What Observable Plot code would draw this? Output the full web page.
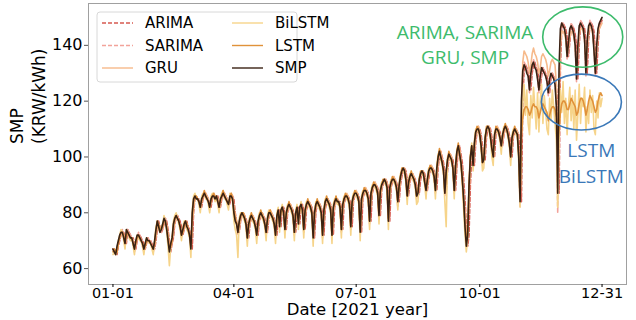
<!DOCTYPE html>
<html><head><meta charset="utf-8">
<script src="https://cdn.jsdelivr.net/npm/d3@7"></script>
<script src="https://cdn.jsdelivr.net/npm/@observablehq/plot@0.6"></script>
<style>
html,body{margin:0;padding:0;background:#fff;}
#chart{width:636px;height:320px;}
</style></head><body><div id="chart"></div>
<script>
const startDate = "2021-01-01";
const seriesNames = ["ARIMA","SARIMA","GRU","BiLSTM","LSTM","SMP"];
const seriesColors = ["#d65a50","#f2a39a","#f6b98a","#f6d48a","#e0923a","#3a2214"];
const seriesDash = ["4,2","4,2",null,null,null,null];
const xTicks = ["2021-01-01","2021-04-01","2021-07-01","2021-10-01","2021-12-31"];
const xTickLabels = ["01-01","04-01","07-01","10-01","12-31"];
const yTicks = [60,80,100,120,140];
const xLabel = "Date [2021 year]";
const yLabel = "SMP\n(KRW/kWh)";

const smp = [
67,66,65,
68,70,72,73,73,71,69,
74,73,72,71,71,69,67,
70,72,72,71,70,69,67,
69,71,70,70,69,68,67,
70,74,77,75,73,74,76,
78,77,74,70,66,69,71,
76,78,79,78,77,75,72,
74,76,77,75,74,72,67,
80,85,86,85,85,84,82,
85,86,87,86,85,84,82,
85,86,86,85,86,84,82,
85,86,87,86,85,84,83,
86,86,85,80,77,76,73,
77,79,80,79,78,76,71,
76,78,79,78,77,75,72,
77,79,80,79,78,76,73,
78,80,80,79,78,76,72,
79,81,75,81,82,80,74,
80,82,83,82,81,79,73,
80,82,76,82,83,81,74,
81,83,84,83,82,80,71,
80,83,84,83,82,80,72,
81,84,85,84,83,81,72,
82,84,85,84,84,82,74,
83,85,86,86,85,83,75,
84,86,87,87,86,84,73,
85,87,88,88,87,85,77,
87,89,90,90,89,87,79,
88,90,91,92,91,89,77,
89,91,92,92,91,89,84,
90,93,95,96,95,92,86,
91,93,94,93,92,90,86,
87,92,94,95,94,91,88,
92,95,96,96,95,93,88,
96,100,102,100,98,95,87,
95,99,101,100,99,96,88,
97,102,104,101,98,92,85,
75,68,72,90,100,104,97,
105,109,110,110,108,104,98,
99,107,110,111,110,107,103,
100,108,110,110,109,107,104,
108,110,111,110,108,105,100,
107,109,110,109,108,100,84,
120,131,133,132,130,129,124,
130,133,134,132,131,128,124,
129,132,131,130,129,127,123,
128,130,129,128,126,118,87,
132,146,148,147,146,143,136,
141,146,147,146,144,140,128,
140,147,148,147,146,142,130,
142,147,148,147,145,138,130,
140,146,148,149,150];

const arima = [
67,67,66,
65,68,70,72,73,73,71,
69,74,73,72,71,71,69,
67,70,72,72,71,70,69,
67,69,71,70,70,69,68,
67,70,74,77,75,73,74,
76,78,77,74,70,66,69,
71,76,78,79,78,77,75,
72,74,76,77,75,74,72,
67,80,85,86,85,85,84,
82,85,86,87,86,85,84,
82,85,86,86,85,86,84,
82,85,86,87,86,85,84,
83,86,86,85,80,77,76,
73,77,79,80,79,78,76,
71,76,78,79,78,77,75,
72,77,79,80,79,78,76,
73,78,80,80,79,78,76,
72,79,81,75,81,82,80,
74,80,82,83,82,81,79,
73,80,82,76,82,83,81,
74,81,83,84,83,82,80,
71,80,83,84,83,82,80,
72,81,84,85,84,83,81,
72,82,84,85,84,84,82,
74,83,85,86,86,85,83,
75,84,86,87,87,86,84,
73,85,87,88,88,87,85,
77,87,89,90,90,89,87,
79,88,90,91,92,91,89,
77,89,91,92,92,91,89,
84,90,93,95,96,95,92,
86,91,93,94,93,92,90,
86,87,92,94,95,94,91,
88,92,95,96,96,95,93,
88,96,100,102,100,98,95,
87,95,99,101,100,99,96,
88,97,102,104,101,98,92,
85,75,68,72,90,100,104,
97,105,109,110,110,108,104,
98,99,107,110,111,110,107,
103,100,108,110,110,109,107,
104,108,110,111,110,108,105,
100,107,109,110,109,108,100,
84,120,131,133,132,130,129,
124,130,133,134,132,131,128,
124,129,132,131,130,129,127,
123,128,130,129,128,126,118,
87,132,146,148,147,146,143,
136,141,146,147,146,144,140,
128,140,147,148,147,146,142,
130,142,147,148,147,145,138,
130,140,146,148,149];

const sarima = [
67,66,66,
67,69,71,73,74,72,68,
72,74,73,72,71,70,66,
68,71,73,72,70,68,66,
68,70,71,70,70,68,66,
68,72,76,76,74,73,74,
77,78,75,71,67,68,70,
74,77,79,79,77,75,71,
73,75,77,76,74,72,68,
76,83,86,86,85,84,81,
84,86,87,87,86,84,81,
84,86,87,86,85,84,81,
84,86,87,87,86,84,82,
85,87,86,82,78,76,72,
75,78,80,80,78,76,70,
74,77,79,79,77,75,71,
75,78,80,80,78,76,72,
76,79,81,80,78,76,71,
77,80,78,79,81,80,73,
78,81,83,83,81,79,72,
79,81,79,80,82,81,73,
79,82,84,84,82,80,71,
78,82,84,84,82,80,71,
79,83,85,85,83,81,71,
80,83,85,85,84,82,73,
81,84,86,87,85,83,74,
82,85,87,88,86,84,73,
82,86,88,89,87,85,76,
85,88,90,91,89,87,78,
86,89,91,92,91,89,77,
87,90,92,93,91,89,82,
88,92,95,96,95,92,85,
89,92,94,94,92,90,85,
87,91,94,95,94,91,87,
90,94,96,97,95,93,87,
93,99,102,101,98,95,86,
93,98,101,101,99,96,87,
95,101,104,102,98,93,84,
80,70,72,85,98,103,98,
101,107,110,111,108,104,97,
98,104,109,111,110,107,102,
100,106,110,111,109,107,103,
105,109,111,111,108,105,99,
104,108,110,110,108,101,82,
105,128,134,133,131,129,123,
127,132,135,133,131,128,123,
126,131,132,131,129,127,122,
125,129,130,129,127,119,80,
118,142,148,148,146,143,135,
138,145,148,147,144,140,127,
136,146,149,148,146,142,129,
138,146,149,148,145,139,129,
137,145,148,149,150];

const gru = [
67,67,66,
67,69,71,72,73,72,70,
72,73,72,71,71,70,68,
69,71,72,71,70,69,68,
68,70,70,70,69,68,67,
69,72,76,75,74,74,75,
77,77,75,72,68,68,70,
74,77,78,78,77,75,73,
73,75,77,76,74,72,69,
76,82,85,86,85,84,83,
84,86,87,87,86,85,83,
84,86,87,86,86,85,83,
84,86,87,87,86,85,84,
85,87,86,82,79,77,75,
75,78,80,80,79,77,73,
74,77,79,79,78,76,73,
75,78,80,80,79,77,74,
76,79,81,80,79,77,74,
77,80,78,79,81,80,75,
78,81,83,83,82,80,75,
78,81,79,80,82,81,75,
79,82,84,84,83,81,73,
78,82,84,84,83,81,74,
79,83,85,85,84,82,74,
80,83,85,85,84,83,76,
81,84,86,87,86,84,77,
82,85,87,88,87,85,76,
82,86,88,89,88,86,79,
84,88,90,91,90,88,81,
86,89,91,92,92,90,80,
86,90,92,93,92,90,85,
88,92,95,96,96,93,88,
89,92,94,94,93,91,87,
88,91,94,95,95,92,89,
90,94,96,97,96,94,90,
93,99,102,102,99,96,89,
93,98,101,101,100,97,90,
95,101,104,103,99,94,87,
79,71,73,86,98,103,99,
103,108,110,111,109,106,100,
100,105,110,111,111,108,104,
102,107,110,111,110,108,105,
106,109,111,111,109,106,102,
105,108,110,110,109,102,88,
112,134,138,137,136,134,130,
133,137,139,137,136,134,130,
132,136,137,136,135,133,129,
131,134,135,134,133,126,98,
120,140,145,145,144,142,137,
139,143,145,145,143,140,131,
137,144,146,146,145,142,133,
139,145,147,146,144,140,132,
138,144,146,147,148];

const bilstm = [
65,66,65,
66,70,72,74,73,70,67,
74,73,71,70,71,68,65,
70,72,71,70,70,68,65,
69,71,70,69,69,67,65,
70,75,77,74,73,75,76,
79,77,73,68,61,68,71,
77,79,80,78,76,74,70,
75,77,77,74,73,71,64,
81,86,87,85,85,83,80,
86,87,87,85,85,83,80,
86,87,86,84,86,83,80,
86,87,88,85,85,83,81,
87,86,84,77,74,72,64,
78,80,80,78,77,75,68,
77,79,79,77,76,74,69,
78,80,80,78,77,75,70,
79,81,80,78,77,75,69,
80,82,73,81,83,79,71,
81,83,83,81,80,78,70,
81,83,74,82,84,80,71,
82,84,84,82,81,79,68,
81,84,84,82,81,79,69,
82,85,85,83,82,80,69,
83,85,85,83,83,81,71,
84,86,86,85,84,82,72,
85,87,87,86,85,83,70,
86,88,88,87,86,84,74,
88,90,90,89,88,86,76,
89,91,91,91,90,88,74,
90,92,92,91,90,88,81,
91,94,95,95,94,91,83,
92,94,94,92,91,89,83,
84,93,94,94,93,90,85,
93,96,96,95,94,92,85,
97,101,102,99,97,94,84,
75,100,101,99,98,95,85,
98,103,104,100,97,90,81,
72,66,71,91,101,105,95,
106,110,110,109,107,103,95,
96,108,110,110,109,106,100,
97,109,110,109,108,106,101,
109,111,111,109,107,104,97,
108,110,110,108,107,98,82,
110,120,126,115,124,112,108,
122,114,125,118,110,123,109,
120,126,112,122,117,110,108,
121,113,124,118,112,106,82,
105,124,116,127,112,121,108,
119,125,113,122,110,124,106,
115,126,112,121,118,125,109,
118,112,124,116,122,110,108,
120,114,123,118,121];

const lstm = [
66,67,66,
66,69,71,73,73,72,69,
72,73,72,71,71,69,67,
69,71,72,71,70,69,67,
68,70,70,70,69,68,67,
69,73,77,76,74,74,75,
77,77,75,71,67,68,70,
75,78,79,78,77,75,72,
73,75,77,76,74,72,68,
78,84,86,86,85,84,82,
84,86,88,86,85,84,82,
84,86,87,85,86,84,82,
84,86,88,86,85,84,83,
85,87,85,81,78,76,73,
76,79,80,80,78,76,71,
75,78,80,78,77,75,72,
76,79,81,79,78,76,73,
77,80,81,79,78,76,72,
78,81,77,80,82,80,74,
79,82,84,82,81,79,73,
79,82,78,81,83,81,74,
80,83,85,83,82,80,72,
79,83,85,83,82,80,72,
80,84,86,84,83,81,72,
81,84,86,84,84,82,74,
82,85,87,86,85,83,75,
83,86,88,87,86,84,74,
84,87,89,88,87,85,77,
86,89,91,90,89,87,79,
87,90,92,92,91,89,78,
88,91,93,92,91,89,84,
89,93,96,96,95,92,86,
90,93,95,93,92,90,86,
88,92,95,95,94,91,88,
91,95,97,96,95,93,88,
95,100,103,100,98,95,87,
94,99,102,100,99,96,88,
96,102,105,101,98,92,84,
77,70,73,89,100,104,98,
104,109,111,110,108,104,98,
99,106,111,111,110,107,103,
101,107,111,110,109,107,104,
107,110,112,110,108,105,100,
106,109,111,109,108,101,85,
108,114,117,118,118,117,115,
116,118,119,118,118,117,114,
116,118,119,118,117,116,113,
115,117,118,118,117,114,104,
110,116,119,120,120,119,117,
117,119,121,120,119,118,115,
116,119,121,121,120,118,115,
117,120,122,121,120,118,116,
117,120,122,123,122];

const seriesValues = [arima, sarima, gru, bilstm, lstm, smp];

// annotation texts (date, value)
const noteGreen = [
  {text: "ARIMA, SARIMA", date: "2021-09-20", value: 144.6},
  {text: "GRU, SMP", date: "2021-09-20", value: 135.6}
];
const noteBlue = [
  {text: "LSTM", date: "2021-12-23", value: 102.3},
  {text: "BiLSTM", date: "2021-12-23", value: 93}
];
const ellipses = [
  {date: "2021-12-17", value: 142.8, rxDays: 29.8, ryValue: 10.8, color: "#3dbb6c"},
  {date: "2021-12-16", value: 119.5, rxDays: 29.8, ryValue: 10.0, color: "#3a78b8"}
];

const t0 = new Date(startDate + "T00:00:00Z");
const dayMs = 86400000;
const dateOf = i => new Date(t0.getTime() + i * dayMs);
const parse = s => new Date(s + "T00:00:00Z");
const tickDates = xTicks.map(parse);

const marks = [];
seriesNames.forEach((name, k) => {
  const vals = seriesValues[k];
  const rows = vals.map((v, i) => ({date: dateOf(i), value: v}));
  marks.push(Plot.line(rows, {
    x: "date", y: "value", stroke: seriesColors[k], strokeWidth: 1.6,
    strokeDasharray: seriesDash[k] || undefined, strokeLinejoin: "round"
  }));
});

const gf = "'Open Sans', 'Noto Sans', sans-serif";
marks.push(Plot.text(noteGreen, {x: d => parse(d.date), y: "value", text: "text", fill: "#3dbb6c", fontSize: 19, fontFamily: gf}));
marks.push(Plot.text(noteBlue, {x: d => parse(d.date), y: "value", text: "text", fill: "#3a78b8", fontSize: 19, fontFamily: gf}));

marks.push(Plot.frame({stroke: "#a0a0a0", strokeWidth: 1}));
marks.push(Plot.axisY({ticks: yTicks, tickSize: 4, tickPadding: 2, fontSize: 16, label: null, stroke: "#555"}));
marks.push(Plot.axisX({ticks: tickDates, tickFormat: d => xTickLabels[tickDates.findIndex(t => +t === +d)], tickSize: 3, tickPadding: 0, fontSize: 14.5, label: null}));
marks.push(Plot.text([xLabel], {frameAnchor: "bottom", dy: 19, fontSize: 16.5, lineAnchor: "top"}));
marks.push(Plot.text([yLabel], {frameAnchor: "left", rotate: -90, dx: -62, fontSize: 17, lineHeight: 1.3}));

const plot = Plot.plot({
  width: 636, height: 320,
  marginTop: 3, marginBottom: 36, marginLeft: 88, marginRight: 10,
  style: {fontFamily: "'DejaVu Sans', sans-serif", color: "#000", background: "#fff", overflow: "visible"},
  x: {type: "utc", domain: [new Date(t0.getTime() - 18.2 * dayMs), new Date(t0.getTime() + 382.2 * dayMs)]},
  y: {domain: [54.3, 155]},
  marks
});

// ellipse annotations, positioned through the plot's scales
const sx = plot.scale("x"), sy = plot.scale("y");
const svg = d3.select(plot);
ellipses.forEach(e => {
  const c = parse(e.date);
  const cx = sx.apply(c);
  const rx = sx.apply(new Date(c.getTime() + e.rxDays * dayMs)) - cx;
  const cy = sy.apply(e.value);
  const ry = sy.apply(e.value - e.ryValue) - cy;
  svg.append("ellipse").attr("cx", cx).attr("cy", cy).attr("rx", rx).attr("ry", ry)
    .attr("fill", "none").attr("stroke", e.color).attr("stroke-width", 1.6);
});

// legend
const lg = svg.append("g").attr("font-family", "'DejaVu Sans', sans-serif").attr("font-size", 15).attr("text-anchor", "start");
lg.append("rect").attr("x", 97).attr("y", 12).attr("width", 200).attr("height", 70).attr("rx", 3)
  .attr("fill", "#fff").attr("fill-opacity", 0.85).attr("stroke", "#d8d8d8");
seriesNames.forEach((name, k) => {
  const col = Math.floor(k / 3), row = k % 3;
  const x0 = col ? 232 : 102;
  const y0 = 23 + row * 22.5;
  lg.append("line").attr("x1", x0).attr("x2", x0 + 31).attr("y1", y0).attr("y2", y0)
    .attr("stroke", seriesColors[k]).attr("stroke-width", 1.4)
    .attr("stroke-dasharray", seriesDash[k] || null);
  lg.append("text").attr("x", x0 + 43).attr("y", y0).attr("dy", "0.36em").attr("fill", "#000")
    .attr("text-anchor", "start").text(name);
});

document.getElementById("chart").appendChild(plot);
</script>
</body></html>
